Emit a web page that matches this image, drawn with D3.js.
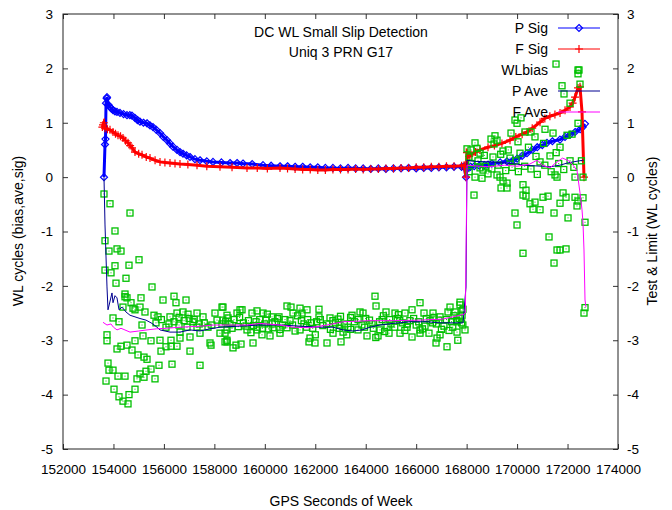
<!DOCTYPE html>
<html>
<head>
<meta charset="utf-8">
<script src="https://cdn.jsdelivr.net/npm/d3@7"></script>
<style>
body { margin: 0; background: #fff; }
text { font-family: "Liberation Sans", Arial, sans-serif; fill: #000; }
</style>
</head>
<body>
<div id="chart"></div>
<script>
// values: [GPS seconds of week, WL cycles]
var pSig = [[153625,0.0],[153665,0.6],[153685,0.7],[153705,1.36],[153730,1.45],[153744,1.47],[153800,1.33],[153863,1.29],
  [153920,1.26],[153982,1.23],[154060,1.21],[154140,1.2],[154259,1.18],[154400,1.16],[154537,1.14],[154650,1.14],
  [154735,1.13],[154850,1.09],[154950,1.05],[155052,1.02],[155190,1.0],[155330,0.99],[155450,0.95],[155568,0.92],
  [155700,0.87],[155845,0.81],[155980,0.74],[156123,0.68],[156240,0.62],[156360,0.56],[156519,0.5],[156640,0.46],
  [156757,0.43],[156900,0.4],[157034,0.37],[157230,0.33],[157430,0.31],[157700,0.29],[157946,0.28],[158280,0.27],
  [158620,0.26],[158900,0.26],[159135,0.25],[159500,0.24],[159928,0.22],[160250,0.21],[160602,0.2],[160900,0.2],
  [161200,0.19],[161500,0.19],[161800,0.18],[162100,0.18],[162400,0.17],[162700,0.17],[163000,0.16],[163300,0.17],
  [163600,0.16],[163900,0.16],[164200,0.15],[164500,0.16],[164800,0.15],[165100,0.16],[165400,0.16],[165700,0.17],
  [166000,0.16],[166300,0.17],[166600,0.17],[166900,0.18],[167200,0.18],[167500,0.19],[167800,0.19],[167900,0.2],
  [167975,0.0],[168015,0.15],[168150,0.19],[168300,0.2],[168500,0.21],[168700,0.22],[168850,0.23],[169000,0.25],
  [169330,0.27],[169600,0.29],[169838,0.31],[170000,0.34],[170200,0.39],[170393,0.44],[170600,0.5],[170800,0.55],
  [171000,0.59],[171186,0.63],[171400,0.66],[171700,0.69],[171900,0.74],[172100,0.78],[172300,0.83],[172500,0.88],
  [172600,0.92],[172690,0.98]];

var fSig = [[153560,0.92],[153586,0.96],[153620,1.0],[153665,0.9],[153760,0.88],[153863,0.87],[153982,0.83],[154080,0.8],
  [154180,0.77],[154280,0.75],[154378,0.72],[154480,0.67],[154577,0.63],[154660,0.58],[154735,0.54],[154854,0.46],
  [155000,0.43],[155132,0.41],[155300,0.37],[155449,0.35],[155650,0.31],[155845,0.28],[156040,0.27],[156241,0.26],
  [156440,0.25],[156638,0.24],[156950,0.23],[157312,0.22],[157700,0.2],[158223,0.19],[158700,0.18],[159294,0.17],
  [159700,0.17],[160100,0.16],[160602,0.17],[160900,0.16],[161200,0.15],[161500,0.14],[161800,0.14],[162100,0.13],
  [162400,0.13],[162700,0.14],[163000,0.14],[163300,0.14],[163600,0.15],[163900,0.14],[164200,0.15],[164500,0.15],
  [164800,0.16],[165100,0.16],[165400,0.17],[165700,0.17],[166000,0.18],[166300,0.18],[166600,0.19],[166900,0.19],
  [167200,0.2],[167500,0.2],[167800,0.21],[167900,0.22],
  [167975,0.0],[168015,0.45],[168100,0.38],[168173,0.41],[168350,0.46],[168530,0.5],[168847,0.55],[169100,0.58],
  [169400,0.62],[169719,0.68],[169950,0.74],[170200,0.79],[170393,0.83],[170600,0.9],[170909,1.01],[171100,1.08],
  [171300,1.12],[171500,1.15],[171702,1.18],[171900,1.23],[172098,1.29],[172200,1.36],[172296,1.47],[172415,1.64],
  [172494,1.66],[172573,1.2],[172652,0.0]];

var wlBias = [[153625,-0.31],[153863,-0.49],[154656,-0.66],[154061,-0.99],[153665,-1.17],[153823,-1.36],[154141,-1.32],
  [154299,-1.36],[155013,-1.52],[153665,-1.71],[154061,-1.63],[154616,-1.62],[153903,-1.76],[154497,-1.86],[154101,-1.95],
  [155528,-2.02],[154458,-2.15],[154537,-2.22],[155092,-2.22],[155964,-2.26],[156400,-2.19],[156876,-2.26],[154696,-2.31],
  [154775,-2.41],[155052,-2.39],[154378,-2.39],[156479,-2.31],[155250,-2.48],[156757,-2.48],[157312,-2.5],[155607,-2.54],
  [155766,-2.57],[156241,-2.57],[156519,-2.5],[156955,-2.52],[158025,-2.5],[158303,-2.39],[153982,-2.59],[154220,-2.66],
  [155132,-2.72],[155686,-2.68],[156083,-2.76],[156598,-2.72],[157153,-2.66],[153744,-2.9],[153744,-3.01],[154141,-3.16],
  [154299,-3.11],[154537,-3.09],[154854,-3.01],[154735,-3.18],[155171,-2.92],[155488,-3.01],[155885,-3.2],[156083,-3.12],
  [156281,-3.11],[156519,-3.11],[157034,-3.2],[157867,-3.09],[158422,-3.03],[154973,-3.27],[155211,-3.31],[155330,-3.35],
  [153784,-3.42],[153823,-3.55],[153982,-3.55],[154180,-3.66],[154458,-3.66],[155805,-3.46],[156321,-3.44],[157431,-3.46],
  [155052,-3.62],[155290,-3.57],[155488,-3.53],[154933,-3.71],[155211,-3.68],[155647,-3.71],[153705,-3.75],[154022,-3.9],
  [154854,-3.9],[154220,-4.04],[154616,-4.0],[154378,-4.12],[154577,-4.17],
  [154458,-2.2],[154854,-2.44],[156638,-2.85],[157431,-2.87],[157827,-3.05],[158501,-2.81],[158342,-2.63],[158541,-2.59],
  [158105,-2.63],[157550,-2.57],[157748,-2.76],[157312,-2.76],[156916,-2.76],[157034,-2.94],[156638,-2.96],[156281,-3.0],
  [155845,-3.0],[158501,-3.0],[158223,-2.87],
  [158342,-2.39],[158501,-2.54],[158422,-2.87],[158501,-3.03],[158739,-3.14],[158858,-3.09],[159056,-3.07],[159016,-2.44],
  [159096,-2.44],[158898,-2.5],[159492,-2.5],[159690,-2.46],[159928,-2.5],[160285,-2.57],[160562,-2.57],[160879,-2.37],
  [161038,-2.39],[161395,-2.41],[161117,-2.5],[161474,-2.5],[161672,-2.44],[162147,-2.43],[162147,-2.57],[162584,-2.59],
  [159532,-3.05],[159888,-2.9],[159294,-2.81],[159690,-2.81],[160205,-2.92],[160602,-2.87],[161791,-2.96],[161989,-3.05],
  [161751,-3.03],[162465,-3.05],[163020,-3.03],[162703,-2.87],[163456,-2.54],[163773,-2.48],[163892,-2.5],[164368,-2.19],
  [164408,-2.37],[164804,-2.48],[165161,-2.5],[165557,-2.5],[165835,-2.44],[166152,-2.31],[166310,-2.5],[166667,-2.5],
  [166945,-2.57],[167341,-2.39],[167737,-2.35],[167817,-2.46],[167539,-2.48],[164051,-2.92],[164487,-2.92],[164923,-2.87],
  [165359,-2.87],[165835,-2.94],[166152,-2.87],[166508,-2.87],[166945,-2.9],[166786,-3.05],[166825,-2.96],[167222,-3.12],
  [167618,-2.85],[167935,-2.81],[163694,-2.81],[163297,-2.76],[162980,-2.72],[159690,-2.76],[160324,-2.77],[160879,-2.77],
  [161395,-2.81],[166152,-2.81],[165637,-2.76],[164844,-2.76],[164567,-2.81],
  [158620,-2.7],[158780,-2.62],[158950,-2.75],[159150,-2.68],[159350,-2.64],[159550,-2.73],[159800,-2.62],[160000,-2.7],
  [160150,-2.79],[160400,-2.66],[160700,-2.72],[161000,-2.64],[161200,-2.83],[161550,-2.7],[161900,-2.78],[162050,-2.66],
  [162300,-2.73],[162600,-2.8],[162800,-2.68],[163100,-2.85],[163250,-2.9],[163550,-2.66],[163850,-2.72],[164150,-2.63],
  [164300,-2.78],[164650,-2.62],[165000,-2.7],[165250,-2.6],[165450,-2.68],[165750,-2.64],[166000,-2.72],[166400,-2.6],
  [166650,-2.68],[166900,-2.63],[167100,-2.74],[167400,-2.66],[167700,-2.6],[167850,-2.72],[160500,-2.6],[161700,-2.62],
  [162900,-2.61],[164000,-2.6],[165550,-2.82],[166250,-2.79],[167300,-2.82],[158300,-2.7],[157600,-2.68],[157200,-2.62],
  [156800,-2.64],[156400,-2.66],[160100,-2.52],[161300,-2.55],[163000,-2.56],[163400,-2.58],[164700,-2.55],[165300,-2.53],
  [166700,-2.58],[167500,-2.55],[162000,-2.9],[164400,-2.95],[167650,-3.0],[167262,-2.48],[167618,-2.66],[167737,-2.3],
  [167817,-2.54],[167856,-2.43],
  [158450,-2.66],[158700,-2.78],[159000,-2.58],[159250,-2.74],[159450,-2.86],[159650,-2.66],[159900,-2.78],[160050,-2.63],
  [160300,-2.7],[160600,-2.8],[160800,-2.62],[161100,-2.72],[161450,-2.64],[161650,-2.76],[161850,-2.68],[162200,-2.62],
  [162450,-2.7],[162700,-2.64],[162950,-2.78],[163150,-2.7],[163400,-2.8],[163700,-2.62],[163950,-2.76],[164250,-2.7],
  [164550,-2.66],[164750,-2.84],[164950,-2.62],[165150,-2.76],[165350,-2.64],[165650,-2.7],[165900,-2.6],[166100,-2.66],
  [166350,-2.74],[166550,-2.64],[166800,-2.7],[167000,-2.8],[167200,-2.62],[167450,-2.76],[167600,-2.64],[167800,-2.68],
  [157900,-2.72],[157400,-2.7],[157000,-2.6],[156600,-2.58],[156200,-2.7],[155900,-2.62],
  [171543,2.08],[172415,1.97],[172415,1.9],[172494,1.71],[171781,1.68],[171860,1.53],[172098,1.36],[169917,1.05],
  [170155,1.09],[169997,0.99],[172415,0.99],[169759,0.81],[170313,0.83],[170552,0.83],[171107,0.88],[170710,0.74],
  [169124,0.76],[168966,0.7],[169204,0.68],[170036,0.65],[168332,0.63],[169085,0.61],[168015,0.52],[168173,0.5],
  [168411,0.53],[169442,0.48],[169045,0.37],[168530,0.44],[168094,0.37],[169719,0.35],[170116,0.44],[171305,0.39],
  [171702,0.55],[171979,0.77],[172177,0.79],[171424,0.81],[170909,0.28],[169957,0.3],[168649,0.13],[168530,0.17],
  [168332,0.0],[168609,-0.02],[168847,0.06],[169204,0.04],[169323,0.0],[169442,-0.07],[169600,-0.11],[169363,-0.2],
  [169600,-0.2],[170234,-0.14],[170353,-0.24],[170234,-0.33],[170353,-0.35],[170512,-0.49],[170710,-0.46],[170909,-0.6],
  [170631,-0.59],[171028,-0.37],[171226,-0.35],[171504,0.04],[171583,0.0],[171464,-0.66],[171821,-0.29],[171940,-0.37],
  [171702,-0.48],[172296,-0.37],[172415,-0.44],[172613,-0.38],[172692,-0.83],[172375,-0.53],[172019,-0.75],[171266,-1.1],
  [171583,-1.34],[171702,-1.34],[171940,-1.32],[171464,-1.58],[170234,-1.4],[169917,-0.66],[169997,-0.88],[168292,-0.33],
  [172296,0.0],[172613,0.0],[172692,-2.4],[172652,-2.5],
  [168200,0.25],[168450,0.3],[168750,0.2],[169000,0.15],[169250,0.22],[169550,0.12],[169800,0.18],[170050,0.1],
  [170300,0.2],[170550,0.15],[170800,0.05],[171100,0.22],[171350,0.1],[171650,0.25],[171850,0.14],[172100,0.3],
  [172250,0.18],[172550,0.3],[168100,0.1],[168700,0.4],[169350,0.42],[170450,0.55],[171050,0.62],[171550,0.45],
  [170750,0.38],[169650,0.5]];

var pAve = [[153625,0.0],[153665,-0.88],[153744,-2.02],[153784,-2.44],[153942,-2.13],[153982,-2.31],[154061,-2.18],
  [154140,-2.22],[154220,-2.44],[154339,-2.39],[154497,-2.48],[154656,-2.54],[154854,-2.57],[155052,-2.6],[155290,-2.63],
  [155528,-2.69],[155726,-2.76],[155845,-2.81],[156241,-2.85],[156638,-2.85],[157034,-2.81],[157430,-2.83],[157827,-2.79],
  [158223,-2.76],[159016,-2.74],[159809,-2.72],[160602,-2.72],[161395,-2.74],[162188,-2.76],[162703,-2.76],[163100,-2.81],
  [163496,-2.83],[163853,-2.81],[164170,-2.76],[164567,-2.72],[165082,-2.69],[165756,-2.66],[166430,-2.66],[166945,-2.68],
  [167540,-2.68],[167857,-2.68],[167975,-2.02],[168015,0.31],[168300,0.29],[168926,0.28],[169500,0.26],[170000,0.24],
  [170234,0.22],[171000,0.2],[171305,0.19],[171700,0.22],[172000,0.26],[172220,0.28],[172600,0.31],[172640,0.31]];

var fAve = [[153586,-2.67],[153744,-2.72],[153900,-2.7],[154000,-2.76],[154140,-2.81],[154300,-2.78],[154656,-2.85],
  [155000,-2.83],[155330,-2.81],[155700,-2.79],[156100,-2.78],[156638,-2.76],[157500,-2.74],[157946,-2.72],[158800,-2.72],
  [159294,-2.72],[159809,-2.69],[160602,-2.72],[161117,-2.76],[161791,-2.77],[162465,-2.72],[163100,-2.66],[164170,-2.64],
  [165082,-2.64],[166152,-2.63],[167063,-2.61],[167460,-2.57],[167738,-2.54],[167896,-2.52],[167950,-2.5],[168015,0.22],
  [168500,0.2],[168926,0.19],[169500,0.22],[170000,0.2],[170500,0.24],[170790,0.31],[171000,0.22],[171305,0.17],
  [171500,0.25],[171800,0.35],[172050,0.3],[172220,0.22],[172375,0.12],[172494,-0.29],[172573,-0.6],[172612,-0.84],
  [172652,-1.34],[172692,-2.26],[172731,-2.39]];

var xTicks = [152000,154000,156000,158000,160000,162000,164000,166000,168000,170000,172000,174000];
var yTicks = [-5,-4,-3,-2,-1,0,1,2,3];
var legendNames = ["P Sig","F Sig","WLbias","P Ave","F Ave"];

var w = 672, h = 510,
svg = d3.select('#chart')
.append("svg")
.attr("width", w)
.attr("height", h);

var x = d3.scaleLinear().domain([152000,174000]).range([63,618]);
var y = d3.scaleLinear().domain([-5,3]).range([449,14]);

var plain = function(d){ return String(d); };

// axes, ticks inside like gnuplot
svg.append("g").attr("transform","translate(0,449)")
.call(d3.axisBottom(x).tickValues(xTicks).tickSizeInner(-5).tickSizeOuter(0).tickPadding(15).tickFormat(plain));
svg.append("g").attr("transform","translate(0,14)")
.call(d3.axisTop(x).tickValues(xTicks).tickSizeInner(-5).tickSizeOuter(0).tickFormat(""));
svg.append("g").attr("transform","translate(63,0)")
.call(d3.axisLeft(y).tickValues(yTicks).tickSizeInner(-5).tickSizeOuter(0).tickPadding(10).tickFormat(plain));
svg.append("g").attr("transform","translate(618,0)")
.call(d3.axisRight(y).tickValues(yTicks).tickSizeInner(-5).tickSizeOuter(0).tickPadding(9).tickFormat(plain));

svg.selectAll(".domain").remove();
svg.selectAll(".tick line").attr("stroke","#333");
svg.selectAll(".tick text").style("font-size","13.5px").style("font-family",'"Liberation Sans", Arial, sans-serif').attr("fill","#000");

svg.append("rect")
.attr("x",63).attr("y",14).attr("width",555).attr("height",435)
.attr("fill","none").attr("stroke","#222");

// titles
svg.append("text").attr("x",341).attr("y",37).attr("text-anchor","middle").style("font-size","14px").text("DC WL Small Slip Detection");
svg.append("text").attr("x",341).attr("y",57).attr("text-anchor","middle").style("font-size","14px").text("Uniq 3 PRN G17");
svg.append("text").attr("x",341).attr("y",506).attr("text-anchor","middle").style("font-size","14px").text("GPS Seconds of Week");
svg.append("text").attr("transform","translate(23,231) rotate(-90)").attr("text-anchor","middle").style("font-size","14px").text("WL cycles (bias,ave,sig)");
svg.append("text").attr("transform","translate(657,231) rotate(-90)").attr("text-anchor","middle").style("font-size","14px").text("Test & Limit (WL cycles)");

var line = d3.line().x(function(d){ return x(d[0]); }).y(function(d){ return y(d[1]); });

function diamond(g, col){
  g.append("path").attr("d","M0,-3.5L3.5,0L0,3.5L-3.5,0Z").attr("fill","none").attr("stroke",col).attr("stroke-width",1.2);
}
function plus(g, col){
  g.append("path").attr("d","M-4,0H4M0,-4V4").attr("stroke",col).attr("stroke-width",1.2);
}
function square(g, col){
  g.append("rect").attr("x",-3).attr("y",-3).attr("width",6).attr("height",6).attr("fill","none").attr("stroke",col).attr("stroke-width",1.3);
  g.append("rect").attr("x",-0.5).attr("y",-0.5).attr("width",1).attr("height",1).attr("fill",col);
}

// sig curves are drawn heavier: in the original the packed markers form a thick band
function drawSeries(data, col, marker, lw){
  if (marker !== square) {
    svg.append("path").datum(data).attr("d", line).attr("fill","none").attr("stroke",col).attr("stroke-width",lw);
  }
  if (marker) {
    svg.append("g").selectAll("g").data(data).enter().append("g")
    .attr("transform", function(d){ return "translate(" + x(d[0]) + "," + y(d[1]) + ")"; })
    .each(function(){ marker(d3.select(this), col); });
  }
}

var cols = ["#0000ff","#ff0000","#00c000","#000090","#ff00ff"];
drawSeries(pSig, cols[0], diamond, 3);
drawSeries(fSig, cols[1], plus, 3);
drawSeries(wlBias, cols[2], square, 1);
drawSeries(pAve, cols[3], null, 1);
drawSeries(fAve, cols[4], null, 1);

// legend
var markers = [diamond, plus, square, null, null];
legendNames.forEach(function(name, i){
  var cy = 28 + i*21;
  svg.append("text").attr("x",548).attr("y",cy+5).attr("text-anchor","end").style("font-size","14px").text(name);
  if (i != 2) {
    svg.append("line").attr("x1",558).attr("x2",600).attr("y1",cy).attr("y2",cy).attr("stroke",cols[i]).attr("stroke-width",1);
  }
  if (markers[i]) {
    markers[i](svg.append("g").attr("transform","translate(579," + cy + ")"), cols[i]);
  }
});
</script>
</body>
</html>
